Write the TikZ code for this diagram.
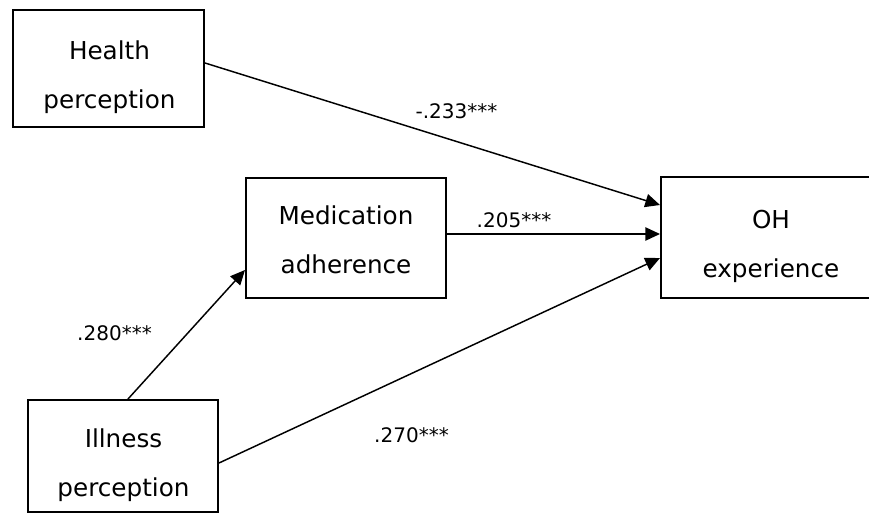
\documentclass[tikz,border=0pt]{standalone}
\usepackage{fontspec}
\setmainfont{DejaVu Sans}
\usetikzlibrary{arrows.meta}

\tikzset{every picture/.style={line width=0.75pt}}
\tikzset{
  varbox/.style={draw, rectangle, line width=1.5pt, inner sep=0pt},
  vartext/.style={align=center, inner sep=0pt, font=\fontsize{18.5}{36.75}\selectfont},
  coef/.style={inner sep=0pt, font=\fontsize{15}{18}\selectfont},
  effect/.style={line width=1.1pt, -{Triangle[length=11pt,width=10pt]}}
}

\begin{document}
\begin{tikzpicture}[x=0.75pt,y=0.75pt,yscale=-1,xscale=1]
\path [use as bounding box] (0,0) rectangle (869,513);

%Boxes
\node [varbox, minimum width=143.25pt, minimum height=87.75pt] (health) at (108.5,68.5) {};
\node [varbox, minimum width=150pt, minimum height=90pt] (med) at (346,238) {};
\node [varbox, minimum width=165pt, minimum height=90.75pt] (oh) at (771,237.5) {};
\node [varbox, minimum width=142.5pt, minimum height=84pt] (illness) at (123,456) {};

% Text Node
\node [vartext] (health-t) at (109.5,77.5) {Health\\perception};
% Text Node
\node [vartext] (med-t) at (346,239.5) {Medication\\adherence};
% Text Node
\node [vartext] (oh-t) at (771,246.5) {OH\\experience};
% Text Node
\node [vartext] (illness-t) at (123.5,465.5) {Illness\\perception};

%Paths
\draw [effect] (health.east |- 0,63) -- (oh.west |- 0,205);
\draw [effect] (med.east |- 0,234) -- (oh.west |- 0,234);
\draw [effect] (illness.east |- 0,463) -- (oh.west |- 0,258);
\draw [effect] (illness.north -| 128,0) -- (med.west |- 0,270);

% Text Node
\node [coef] (c-health) at (456.5,111) {-.233***};
% Text Node
\node [coef] (c-med) at (514,220) {.205***};
% Text Node
\node [coef] (c-ill-med) at (114.5,333.5) {.280***};
% Text Node
\node [coef] (c-ill-oh) at (411.5,435) {.270***};

\end{tikzpicture}
\end{document}
